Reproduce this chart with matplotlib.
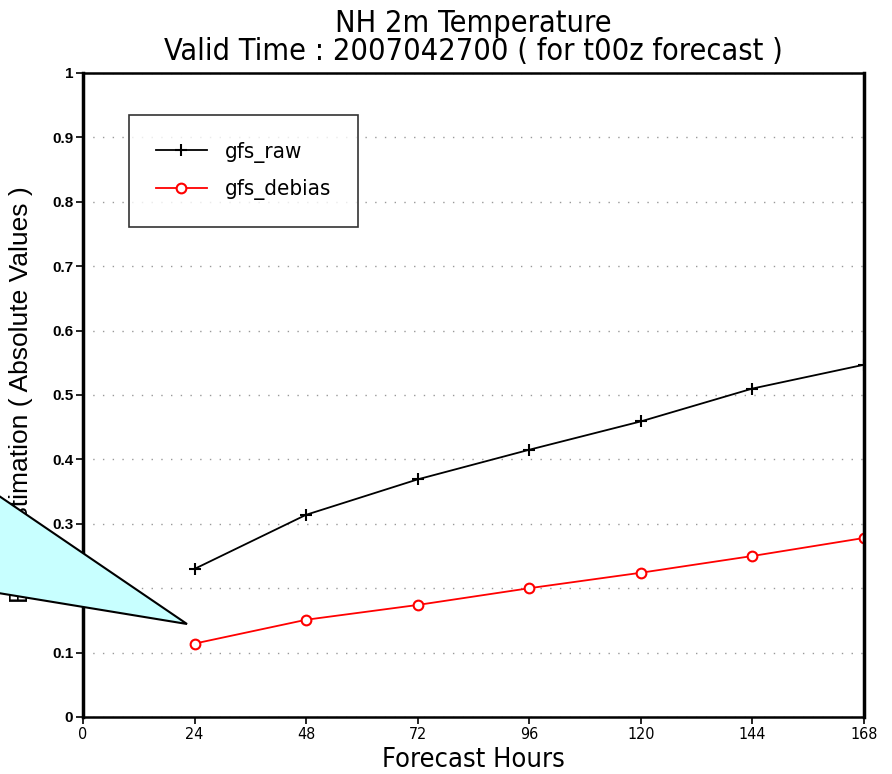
import matplotlib
matplotlib.use("Agg")
import matplotlib.pyplot as plt
from matplotlib.patches import Polygon

# forecast hours and error values
hours = [24, 48, 72, 96, 120, 144, 168]
gfs_raw = [0.230, 0.314, 0.369, 0.415, 0.459, 0.510, 0.547]
gfs_debias = [0.114, 0.151, 0.174, 0.200, 0.224, 0.250, 0.278]
xticks = [0, 24, 48, 72, 96, 120, 144, 168]
yticks = [0, 0.1, 0.2, 0.3, 0.4, 0.5, 0.6, 0.7, 0.8, 0.9, 1]
ytick_labels = ['0', '0.1', '0.2', '0.3', '0.4', '0.5', '0.6', '0.7', '0.8', '0.9', '1']

narrow = ['DejaVu Sans Condensed', 'Liberation Sans Narrow', 'DejaVu Sans']

W, H = 892, 774
fig = plt.figure(figsize=(W / 100, H / 100), dpi=100)
ax = fig.add_axes([83 / W, 1 - 717 / H, (864 - 83) / W, (717 - 73) / H])

ax.plot(hours, gfs_raw, color='black', lw=1.3, marker='+', ms=9, mew=1.5, label='gfs_raw')
ax.plot(hours, gfs_debias, color='red', lw=1.3, marker='o', ms=7, mew=1.5,
        mfc='white', label='gfs_debias')

ax.set_xlim(0, 168)
ax.set_ylim(0, 1)
ax.set_xticks(xticks)
ax.set_xticklabels([str(t) for t in xticks], family=narrow, fontsize=11.5, fontstretch='condensed')
ax.set_yticks(yticks)
ax.set_yticklabels(ytick_labels, family='Liberation Sans', fontsize=11, fontweight='bold')
ax.tick_params(axis='both', direction='out', length=5, width=1.2, colors='black', pad=2)
ax.yaxis.grid(True, linestyle=(0, (1, 6)), color='#999999', lw=1)
ax.set_axisbelow(True)

for side in ['left', 'right']:
    ax.spines[side].set_linewidth(2.5)
for side in ['top', 'bottom']:
    ax.spines[side].set_linewidth(1.8)

ax.set_ylabel('Error Estimation ( Absolute Values )', family='Liberation Sans', fontsize=19)
ax.yaxis.set_label_coords((33 - 83) / (864 - 83), 0.5)

fig.text(473 / W, 1 - 23 / H, 'NH 2m Temperature', family=narrow, fontsize=22,
         fontstretch='condensed', ha='center', va='center')
fig.text(473 / W, 1 - 51 / H, 'Valid Time : 2007042700 ( for t00z forecast )', family=narrow,
         fontsize=22, fontstretch='condensed', ha='center', va='center')
fig.text(473 / W, 1 - 760 / H, 'Forecast Hours', family=narrow, fontsize=19.5,
         fontstretch='condensed', ha='center', va='center')

leg = ax.legend(loc='upper left', bbox_to_anchor=(129 / W, 1 - 115 / H),
                bbox_transform=fig.transFigure,
                prop={'family': narrow, 'size': 16, 'stretch': 'condensed'},
                frameon=True, fancybox=False, borderpad=1.2, handlelength=2.3,
                handletextpad=0.8, labelspacing=0.75, borderaxespad=0)
leg.get_frame().set_edgecolor('black')
leg.get_frame().set_linewidth(1.2)

# light cyan callout shape over the y label
callout = Polygon([(-20 / W, 1 - 483 / H), (187 / W, 1 - 624 / H), (-20 / W, 1 - 590 / H)],
                  closed=True, transform=fig.transFigure, facecolor='#c8ffff',
                  edgecolor='black', lw=1.5, zorder=10)
fig.patches.append(callout)

fig.savefig('out.png', dpi=100, facecolor='white')
